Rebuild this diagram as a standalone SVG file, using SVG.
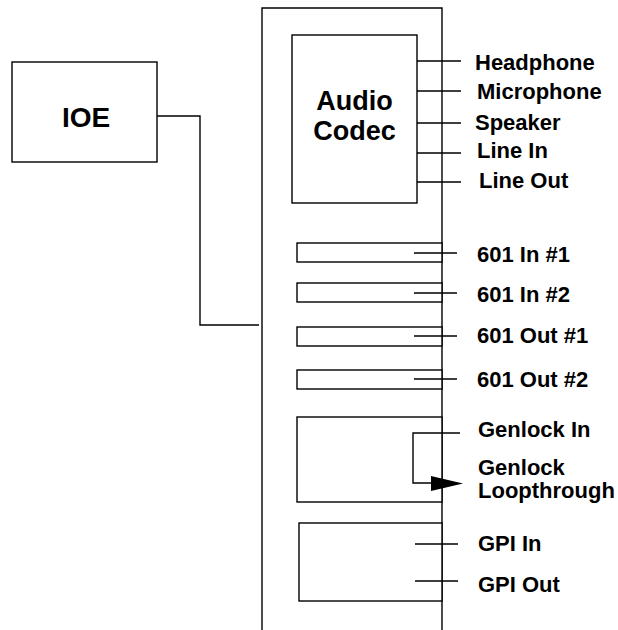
<svg xmlns="http://www.w3.org/2000/svg" width="618" height="630" viewBox="0 0 618 630">
<style>
.box{fill:#fff;stroke:#000;stroke-width:1.4}
.ln{fill:none;stroke:#000;stroke-width:1.4}
.lbl{font-family:"Liberation Sans",Arial,sans-serif;font-weight:bold;font-size:22px;fill:#000}
.big{font-family:"Liberation Sans",Arial,sans-serif;font-weight:bold;font-size:27px;fill:#000;text-anchor:middle}
</style>
<rect width="618" height="630" fill="#fff"/>
<g id="board">
<path class="ln" d="M262,630 V8 H442 V630"/>
</g>
<g id="ioe">
<rect class="box" x="12" y="62" width="145" height="100"/>
<text class="big" x="86" y="127" style="font-size:28px">IOE</text>
</g>
<g id="audio-codec">
<rect class="box" x="292" y="35" width="125" height="168"/>
<text class="big" x="354.5" y="110">Audio</text>
<text class="big" x="354.5" y="140">Codec</text>
</g>
<g id="in601-1"><rect class="box" x="297" y="243" width="145" height="19"/></g>
<g id="in601-2"><rect class="box" x="297" y="283" width="145" height="19"/></g>
<g id="out601-1"><rect class="box" x="297" y="327" width="145" height="19"/></g>
<g id="out601-2"><rect class="box" x="297" y="370" width="145" height="19"/></g>
<g id="genlock"><rect class="box" x="297" y="417" width="145" height="85"/></g>
<g id="gpi"><rect class="box" x="299" y="523" width="143" height="78"/></g>
<g id="connectors">
<path class="ln" d="M157,116 H200 V325 H259"/>
<path class="ln" d="M417,61 H461 M417,91 H461 M417,123 H461 M417,153 H461 M417,182 H461"/>
<path class="ln" d="M414,253 H457 M414,293 H457 M414,336 H457 M414,379 H457"/>
<path class="ln" d="M460,433 H413 V483 H435"/>
<polygon points="431,476 463,483.5 431,491" fill="#000"/>
<path class="ln" d="M415,544 H458 M415,581 H458"/>
</g>
<g id="labels">
<text class="lbl" x="475" y="70">Headphone</text>
<text class="lbl" x="477" y="99">Microphone</text>
<text class="lbl" x="475" y="130">Speaker</text>
<text class="lbl" x="477" y="158">Line In</text>
<text class="lbl" x="479" y="188">Line Out</text>
<text class="lbl" x="477" y="262">601 In #1</text>
<text class="lbl" x="477" y="302">601 In #2</text>
<text class="lbl" x="477" y="343">601 Out #1</text>
<text class="lbl" x="477" y="387">601 Out #2</text>
<text class="lbl" x="478" y="437">Genlock In</text>
<text class="lbl" x="478" y="475">Genlock</text>
<text class="lbl" x="478" y="498">Loopthrough</text>
<text class="lbl" x="478" y="551">GPI In</text>
<text class="lbl" x="478" y="592">GPI Out</text>
</g>
</svg>
